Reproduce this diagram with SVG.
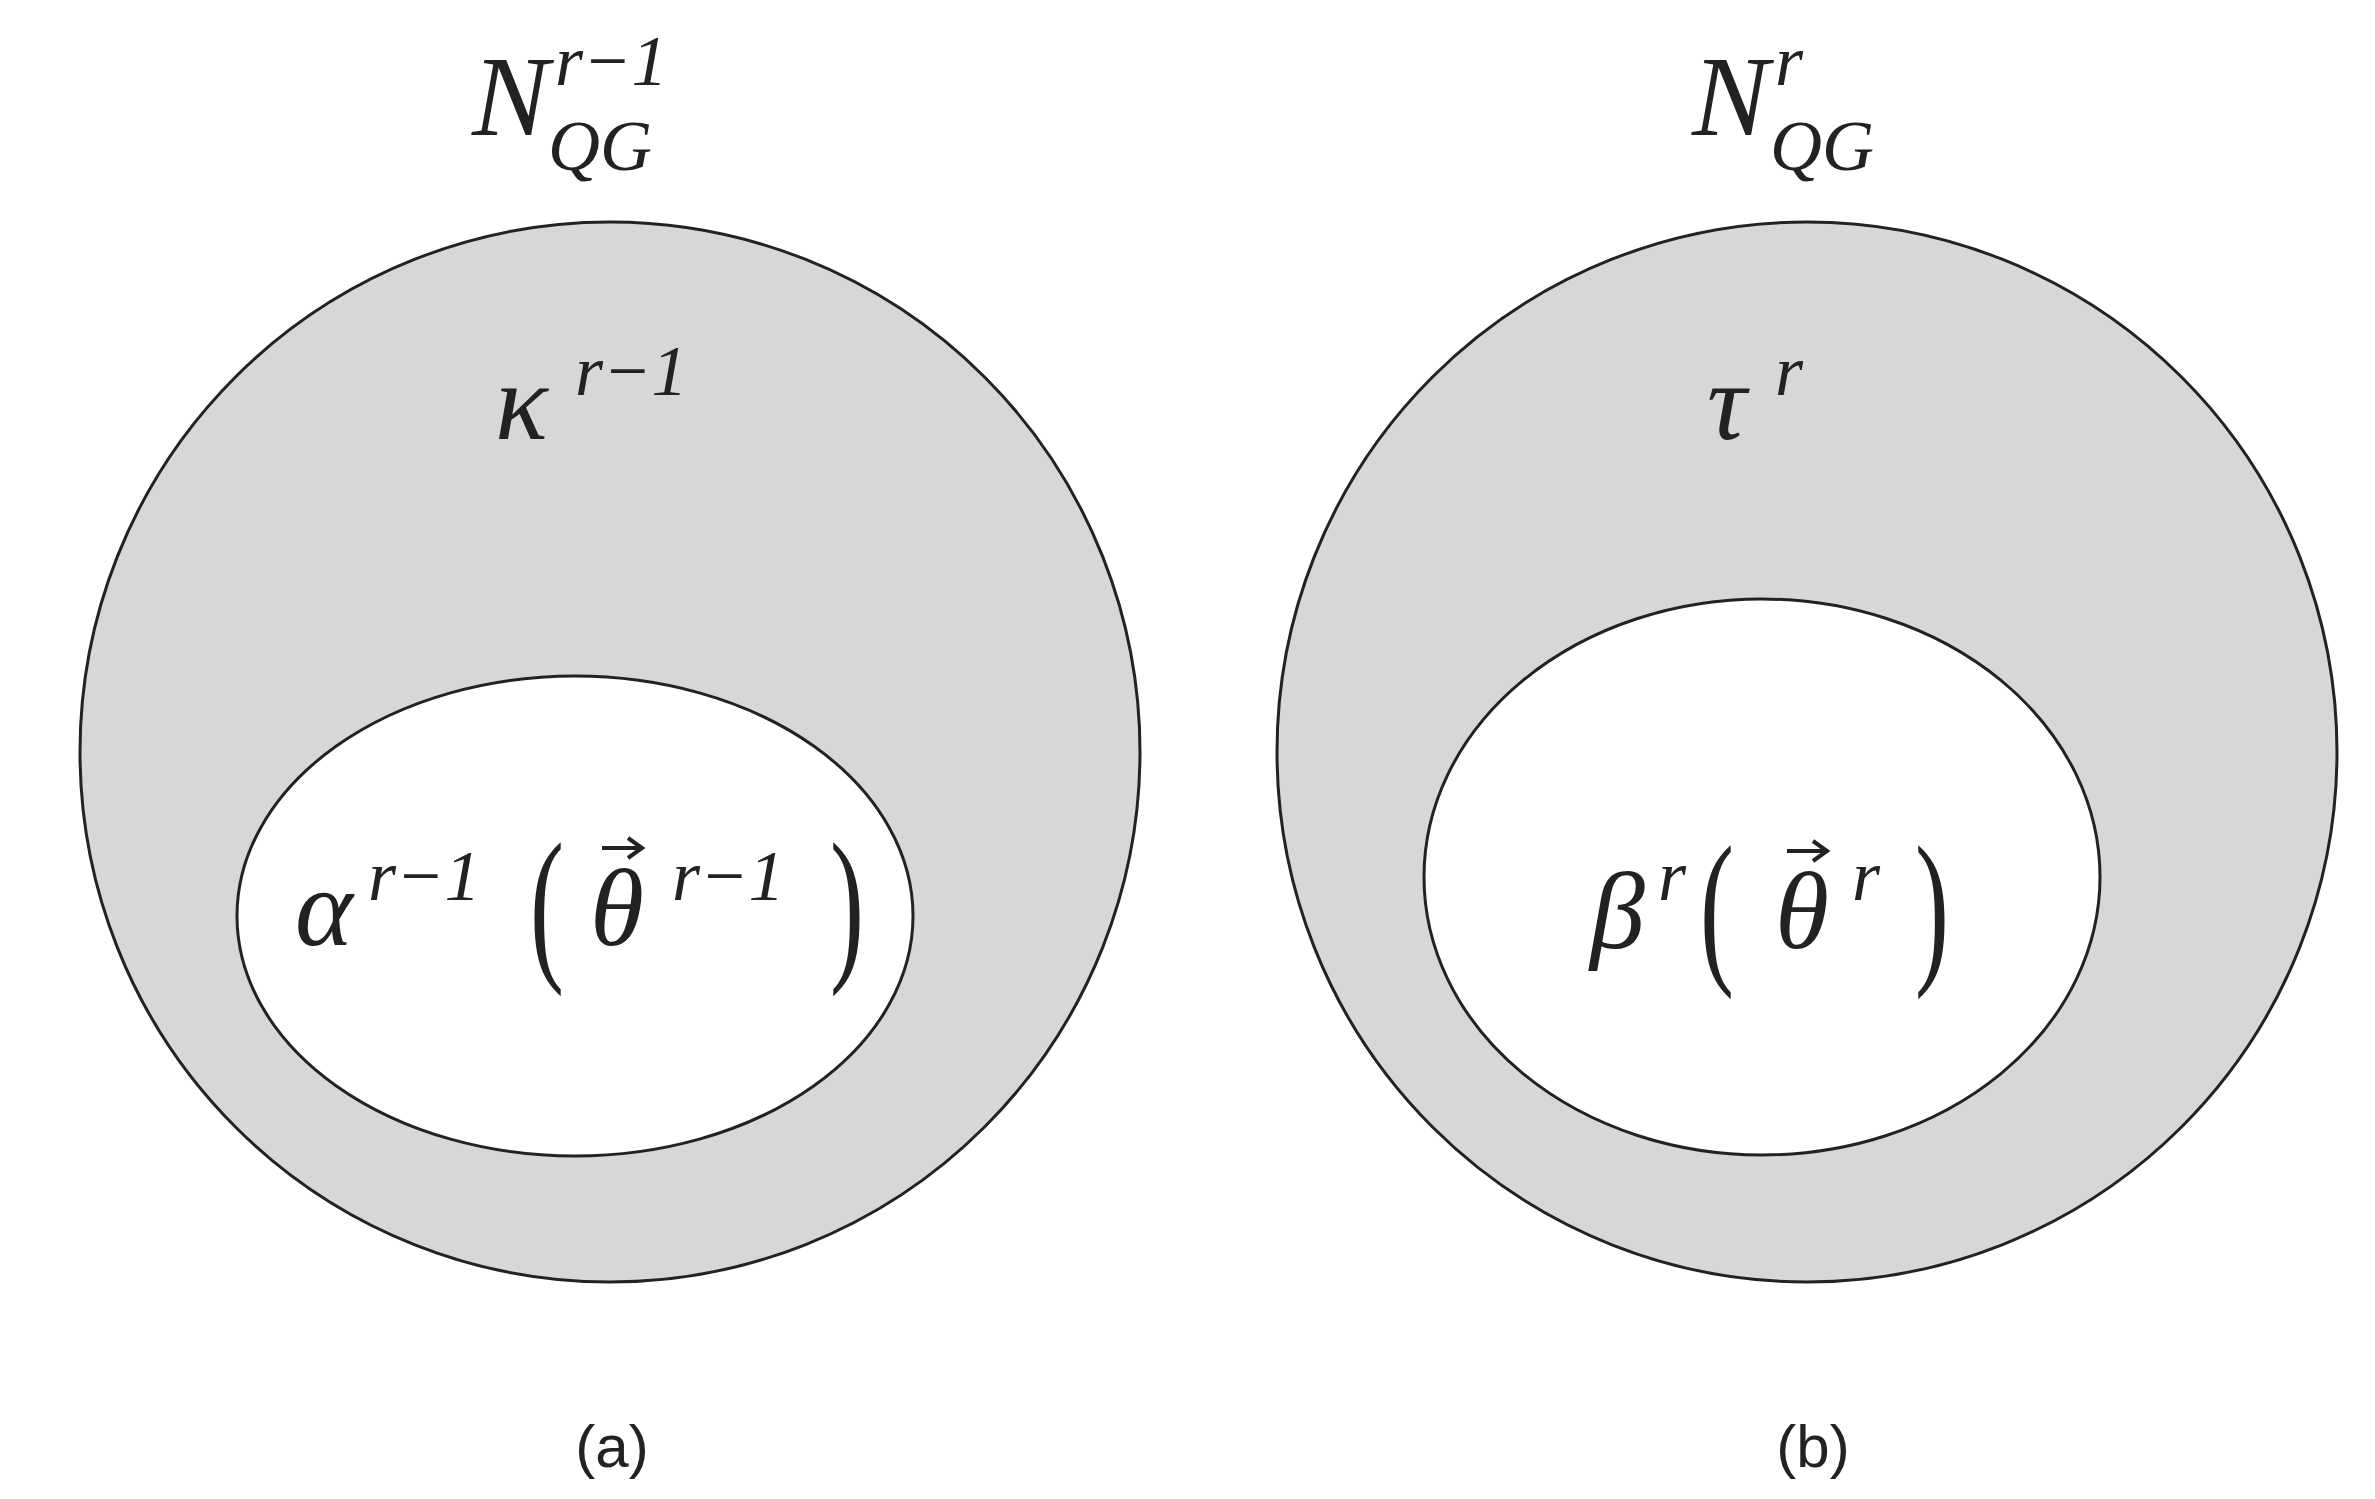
<svg xmlns="http://www.w3.org/2000/svg" width="2375" height="1499" viewBox="0 0 2375 1499">
<style>
.o{fill:#d6d7d9;stroke:#222;stroke-width:3}
.i{fill:#fff;stroke:#222;stroke-width:3}
.m{font-family:"Liberation Serif",serif;font-style:italic;fill:#222}
.u{font-family:"Liberation Serif",serif;fill:#222}
.c{font-family:"Liberation Sans",sans-serif;fill:#222;font-size:60px;text-anchor:middle}
.v{fill:none;stroke:#222;stroke-width:4}
</style>
<rect width="2375" height="1499" fill="#fff"/>
<g id="a">
<circle class="o" cx="610" cy="752" r="530"/>
<ellipse class="i" cx="575" cy="916" rx="338" ry="240"/>
<text class="m" x="472" y="135" font-size="115">N</text>
<text class="m" x="555" y="85" font-size="72">r<tspan class="u">−1</tspan></text>
<text class="m" x="548" y="170" font-size="72">QG</text>
<text class="m" x="495" y="439" font-size="110">κ</text>
<text class="m" x="575" y="395" font-size="72">r<tspan class="u">−1</tspan></text>
<text class="m" x="295" y="945" font-size="110">α</text>
<text class="m" x="368" y="900" font-size="72">r<tspan class="u">−1</tspan></text>
<text class="u" x="530" y="960" font-size="170" transform="translate(530 0) scale(0.6 1) translate(-530 0)">(</text>
<text class="m" x="590" y="945" font-size="110">θ</text>
<path class="v" d="M602 848 H640 M628 838 L642 848 L628 858"/>
<text class="m" x="672" y="900" font-size="72">r<tspan class="u">−1</tspan></text>
<text class="u" x="830" y="960" font-size="170" transform="translate(830 0) scale(0.6 1) translate(-830 0)">)</text>
<text class="c" x="612" y="1467">(a)</text>
</g>
<g id="b">
<circle class="o" cx="1807" cy="752" r="530"/>
<ellipse class="i" cx="1762" cy="877" rx="338" ry="278"/>
<text class="m" x="1692" y="135" font-size="115">N</text>
<text class="m" x="1775" y="85" font-size="72">r</text>
<text class="m" x="1770" y="170" font-size="72">QG</text>
<text class="m" x="1707" y="439" font-size="110">τ</text>
<text class="m" x="1775" y="395" font-size="72">r</text>
<text class="m" x="1590" y="948" font-size="110">β</text>
<text class="m" x="1658" y="900" font-size="72">r</text>
<text class="u" x="1700" y="963" font-size="170" transform="translate(1700 0) scale(0.6 1) translate(-1700 0)">(</text>
<text class="m" x="1775" y="948" font-size="110">θ</text>
<path class="v" d="M1787 851 H1825 M1813 841 L1827 851 L1813 861"/>
<text class="m" x="1852" y="900" font-size="72">r</text>
<text class="u" x="1915" y="963" font-size="170" transform="translate(1915 0) scale(0.6 1) translate(-1915 0)">)</text>
<text class="c" x="1813" y="1467">(b)</text>
</g>
</svg>
